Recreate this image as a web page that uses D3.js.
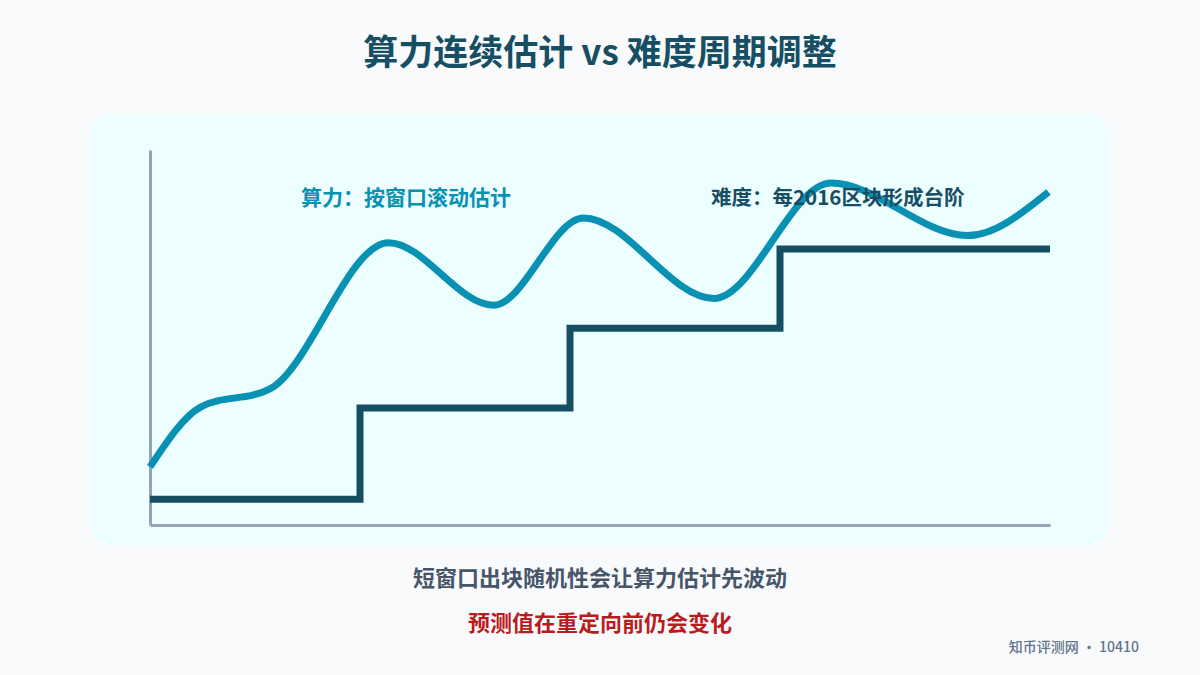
<!DOCTYPE html>
<html>
<head>
<meta charset="utf-8">
<script src="https://cdn.jsdelivr.net/npm/d3@7"></script>
<style>
  body { margin: 0; background: #f8fafc; }
  svg { display: block; font-family: "Noto Sans CJK SC", "Noto Sans", sans-serif; }
</style>
</head>
<body>
<div id="chart"></div>
<script>
// hashrate estimate (smooth curve) vs difficulty steps
var hashX = [0, 1.7, 4, 7.95, 11.45, 14.45, 18.8, 22.7, 27.25, 29.95];
var hashY = [15.5, 31.5, 36.3, 75.3, 58.6, 81.9, 60.4, 91.2, 77.2, 88.8];

// difficulty retargets every 2016 blocks
var stepX = [0, 7, 14, 21, 30];
var stepY = [6.9, 31.2, 52.5, 73.6, 73.6];

var title = "算力连续估计 vs 难度周期调整";
var hashLabel = "算力：按窗口滚动估计";
var diffLabel = "难度：每2016区块形成台阶";
var note1 = "短窗口出块随机性会让算力估计先波动";
var note2 = "预测值在重定向前仍会变化";
var footer = "知币评测网 · 10410";

var svgWidth = 1200;
var svgHeight = 675;

var margin = { top: 150, right: 150, bottom: 150, left: 150 };
var width = svgWidth - margin.left - margin.right;
var height = svgHeight - margin.top - margin.bottom;

var svg = d3.select("#chart")
  .append("svg")
  .attr("width", svgWidth)
  .attr("height", svgHeight);

svg.append("rect")
  .attr("width", svgWidth)
  .attr("height", svgHeight)
  .attr("fill", "#f8fafc");

// panel
svg.append("rect")
  .attr("x", 90)
  .attr("y", 115)
  .attr("width", 1020)
  .attr("height", 430)
  .attr("rx", 22)
  .attr("fill", "#ecfeff");

svg.append("text")
  .attr("x", svgWidth / 2)
  .attr("y", 65)
  .attr("text-anchor", "middle")
  .attr("font-size", 35)
  .attr("font-weight", 700)
  .attr("fill", "#164e63")
  .text(title);

var chartGroup = svg.append("g")
  .attr("transform", `translate(${margin.left}, ${margin.top})`);

var xScale = d3.scaleLinear().domain([0, 30]).range([0, width]);
var yScale = d3.scaleLinear().domain([0, 100]).range([height, 0]);

// axes as plain lines, no ticks
var xAxis = chartGroup.append("g")
  .attr("transform", `translate(0, ${height})`)
  .call(d3.axisBottom(xScale).ticks(0).tickSizeOuter(0));
var yAxis = chartGroup.append("g")
  .call(d3.axisLeft(yScale).ticks(0).tickSizeOuter(0));
chartGroup.selectAll(".domain")
  .attr("stroke", "#94a3b8")
  .attr("stroke-width", 3);

// step line
var stepLine = d3.line()
  .x((d, i) => xScale(stepX[i]))
  .y(d => yScale(d))
  .curve(d3.curveStepAfter);

chartGroup.append("path")
  .datum(stepY)
  .attr("d", stepLine)
  .attr("fill", "none")
  .attr("stroke", "#164e63")
  .attr("stroke-width", 7);

// smooth hashrate curve
var hashLine = d3.line()
  .x((d, i) => xScale(hashX[i]))
  .y(d => yScale(d))
  .curve(d3.curveMonotoneX);

chartGroup.append("path")
  .datum(hashY)
  .attr("d", hashLine)
  .attr("fill", "none")
  .attr("stroke", "#0891b2")
  .attr("stroke-width", 7);

// labels
svg.append("text")
  .attr("x", 301)
  .attr("y", 205)
  .attr("font-size", 21)
  .attr("font-weight", 700)
  .attr("fill", "#0891b2")
  .text(hashLabel);

svg.append("text")
  .attr("x", 711)
  .attr("y", 205)
  .attr("font-size", 20.5)
  .attr("font-weight", 600)
  .attr("fill", "#164e63")
  .text(diffLabel);

svg.append("text")
  .attr("x", svgWidth / 2)
  .attr("y", 586)
  .attr("text-anchor", "middle")
  .attr("font-size", 22)
  .attr("font-weight", 600)
  .attr("fill", "#475569")
  .text(note1);

svg.append("text")
  .attr("x", svgWidth / 2)
  .attr("y", 631)
  .attr("text-anchor", "middle")
  .attr("font-size", 22)
  .attr("font-weight", 600)
  .attr("fill", "#b91c1c")
  .text(note2);

svg.append("text")
  .attr("x", 1139)
  .attr("y", 652)
  .attr("text-anchor", "end")
  .attr("font-size", 14)
  .attr("font-weight", 500)
  .attr("fill", "#64748b")
  .text(footer);
</script>
</body>
</html>
